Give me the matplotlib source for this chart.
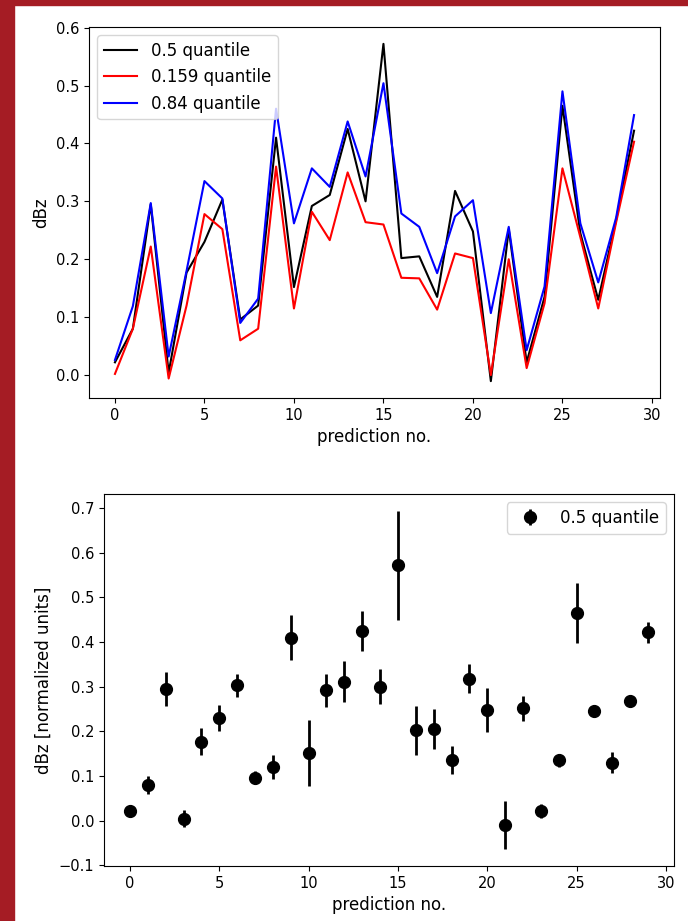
import matplotlib.pyplot as plt
from matplotlib.patches import Rectangle
import numpy as np

pred_no = np.arange(30)

q50 = [0.022, 0.080, 0.295, 0.004, 0.177, 0.230, 0.303, 0.096, 0.120, 0.410,
       0.152, 0.292, 0.311, 0.425, 0.300, 0.572, 0.202, 0.205, 0.135, 0.318,
       0.248, -0.0105, 0.252, 0.022, 0.135, 0.465, 0.245, 0.130, 0.268, 0.422]
q159 = [0.002, 0.080, 0.222, -0.006, 0.120, 0.278, 0.252, 0.060, 0.080, 0.360,
        0.115, 0.282, 0.233, 0.350, 0.264, 0.260, 0.168, 0.167, 0.113, 0.210,
        0.202, 0.000, 0.200, 0.012, 0.124, 0.357, 0.238, 0.115, 0.264, 0.403]
q84 = [0.026, 0.119, 0.297, 0.032, 0.180, 0.335, 0.305, 0.090, 0.132, 0.460,
       0.262, 0.357, 0.325, 0.438, 0.343, 0.504, 0.279, 0.256, 0.176, 0.274,
       0.302, 0.107, 0.256, 0.043, 0.153, 0.490, 0.262, 0.160, 0.272, 0.449]

q50 = np.array(q50)
q159 = np.array(q159)
q84 = np.array(q84)
err = (q84 - q159) / 2

plt.rcParams['font.size'] = 12
plt.rcParams['xtick.labelsize'] = 10.5
plt.rcParams['ytick.labelsize'] = 10.5

fig = plt.figure(figsize=(6.88, 9.21), dpi=100)

# dark red frame around the screenshot
fig.patches.append(Rectangle((0, 0), 14 / 688, 1, transform=fig.transFigure,
                             color='#a51c24', zorder=-1))
fig.patches.append(Rectangle((0, 1 - 5 / 921), 1, 5 / 921, transform=fig.transFigure,
                             color='#a51c24', zorder=-1))

ax1 = fig.add_axes([89 / 688, 1 - 398 / 921, (660 - 89) / 688, (398 - 27) / 921])
ax1.plot(pred_no, q50, color='k', label='0.5 quantile')
ax1.plot(pred_no, q159, color='r', label='0.159 quantile')
ax1.plot(pred_no, q84, color='b', label='0.84 quantile')
ax1.set_xlabel('prediction no.')
ax1.set_ylabel('dBz')
ax1.legend(loc='upper left')

ax2 = fig.add_axes([104 / 688, 1 - 866 / 921, (674 - 104) / 688, (866 - 494) / 921])
ax2.errorbar(pred_no, q50, yerr=err, fmt='ko', markersize=8.5, elinewidth=2,
             label='0.5 quantile')
ax2.set_xlabel('prediction no.')
ax2.set_ylabel('dBz [normalized units]')
ax2.legend(loc='upper right')

fig.savefig('out.png', dpi=100)
